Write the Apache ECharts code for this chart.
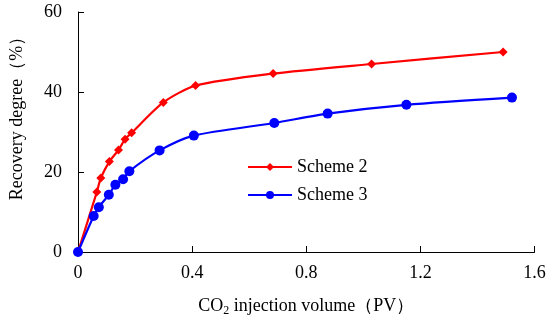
<!DOCTYPE html>
<html>
<head>
<meta charset="utf-8">
<script src="https://cdn.jsdelivr.net/npm/echarts@6/dist/echarts.min.js"></script>
<style>html,body{margin:0;padding:0;background:#fff}#c{width:550px;height:329px}</style>
</head>
<body>
<div id="c"></div>
<script>
var scheme2X = [0, 0.066, 0.080, 0.110, 0.142, 0.165, 0.188, 0.299, 0.412, 0.684, 1.029, 1.490];
var scheme2Y = [0, 15.0, 18.5, 22.6, 25.5, 28.2, 29.8, 37.4, 41.6, 44.6, 47.0, 50.0];
var scheme3X = [0, 0.055, 0.073, 0.108, 0.131, 0.158, 0.180, 0.286, 0.406, 0.688, 0.875, 1.151, 1.521];
var scheme3Y = [0, 9.0, 11.2, 14.3, 16.8, 18.2, 20.2, 25.4, 29.1, 32.25, 34.6, 36.8, 38.6];
var xTicks = [0, 0.4, 0.8, 1.2, 1.6];
var yTicks = [0, 20, 40, 60];

function pairs(xs, ys) { return xs.map(function (x, i) { return [x, ys[i]]; }); }
var font = '"Liberation Serif", "Times New Roman", serif';
var chart = echarts.init(document.getElementById('c'));
chart.setOption({
  animation: false,
  backgroundColor: '#fff',
  grid: { left: 76.5, right: 15.5, top: 12, bottom: 77 },
  legend: {
    orient: 'vertical', left: 242, top: 153, itemWidth: 44, itemHeight: 10, itemGap: 10,
    textStyle: { fontFamily: font, fontSize: 18, color: '#000' },
    data: ['Scheme 2', 'Scheme 3']
  },
  xAxis: {
    type: 'value', min: 0, max: 1.6, interval: 0.4,
    name: '{a|CO}{s|2}{a| injection volume（PV）}', nameLocation: 'middle', nameGap: 43,
    nameTextStyle: { rich: { a: { fontFamily: font, fontSize: 18, color: '#000' }, s: { fontFamily: font, fontSize: 12, color: '#000', padding: [10, 0, 0, 0] } } },
    axisLine: { lineStyle: { color: '#000', width: 1 } },
    axisTick: { inside: true, length: 6, lineStyle: { color: '#000' } },
    axisLabel: { fontFamily: font, fontSize: 18, color: '#000', margin: 12,
      formatter: function (v) { var t = xTicks.filter(function (k) { return Math.abs(k - v) < 1e-6; }); return t.length ? String(t[0]) : ''; } },
    splitLine: { show: false }
  },
  yAxis: {
    type: 'value', min: 0, max: 60, interval: 20,
    name: 'Recovery degree（%）', nameLocation: 'middle', nameGap: 52, nameRotate: 90,
    nameTextStyle: { fontFamily: font, fontSize: 18, color: '#000', padding: [0, 0, 0, 36] },
    axisLine: { show: true, lineStyle: { color: '#000', width: 1 } },
    axisTick: { show: true, inside: true, length: 6, lineStyle: { color: '#000' } },
    axisLabel: { fontFamily: font, fontSize: 18, color: '#000', margin: 16,
      formatter: function (v) { return yTicks.indexOf(v) >= 0 ? String(v) : ''; } },
    splitLine: { show: false }
  },
  series: [
    { name: 'Scheme 2', type: 'line', data: pairs(scheme2X, scheme2Y), smooth: 0.25,
      symbol: 'diamond', symbolSize: 9, color: '#ff0000',
      lineStyle: { width: 2.2, color: '#ff0000' }, itemStyle: { color: '#ff0000' } },
    { name: 'Scheme 3', type: 'line', data: pairs(scheme3X, scheme3Y), smooth: 0.25,
      symbol: 'circle', symbolSize: 10, color: '#0000ff',
      lineStyle: { width: 2.2, color: '#0000ff' }, itemStyle: { color: '#0000ff' } }
  ]
});
</script>
</body>
</html>
